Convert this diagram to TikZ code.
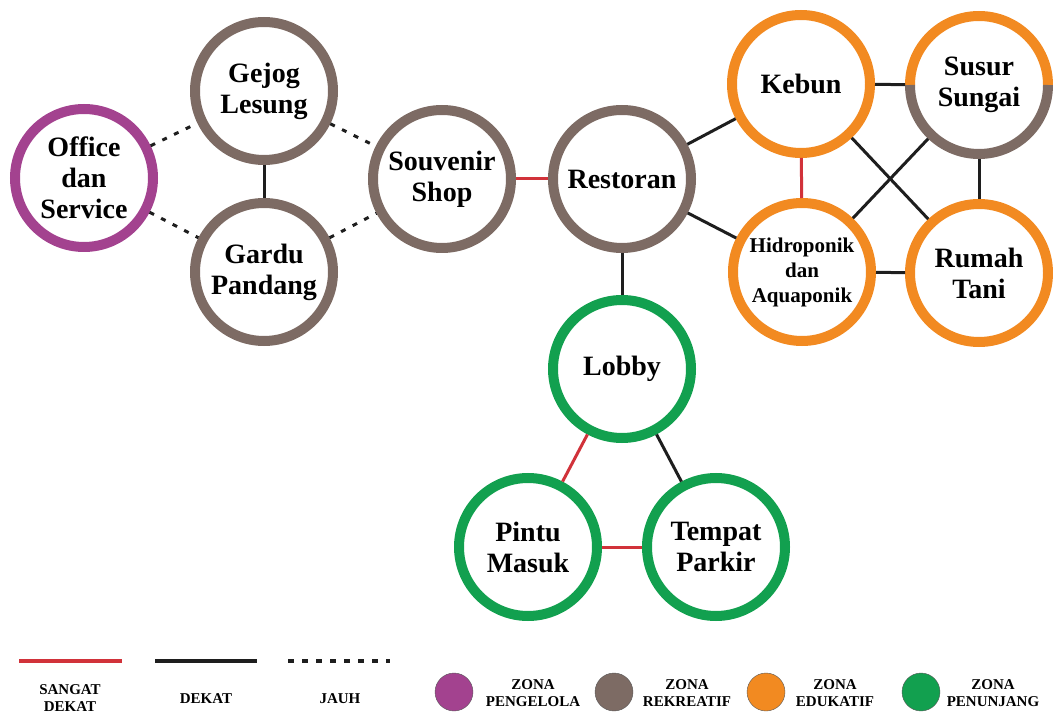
\documentclass[tikz,border=0pt]{standalone}
\usepackage{fontspec}
\setmainfont{Liberation Serif}
\usepackage{tikz}
\usetikzlibrary{shapes,positioning,calc}
\definecolor{zonepurple}{RGB}{163,66,143}
\definecolor{zonebrown}{RGB}{125,107,100}
\definecolor{zoneorange}{RGB}{242,138,33}
\definecolor{zonegreen}{RGB}{18,160,79}
\definecolor{linered}{RGB}{209,50,58}
\definecolor{linedark}{RGB}{30,30,30}

\begin{document}
\begin{tikzpicture}[
    x=1pt, y=1pt,
    zone/.style={circle, draw, line width=10pt, outer sep=5pt, minimum size=138pt, inner sep=0pt, align=center, font=\fontsize{28}{31}\selectfont\bfseries},
    sangat/.style={draw=linered, line width=3pt},
    dekat/.style={draw=linedark, line width=3pt},
    jauh/.style={draw=linedark, line width=3pt, dash pattern=on 5pt off 8pt},
    legend/.style={align=center, font=\fontsize{15}{17}\selectfont\bfseries},
    dot/.style={circle, draw=black!65, line width=0.4pt, minimum size=38pt, inner sep=0pt}
]
    \useasboundingbox (0,0) rectangle (1053,716);

    \node[zone, draw=zonepurple] (office) at (84,538) {Office\\dan\\Service};
    \node[zone, draw=zonebrown] (gejog) at (264,625) {Gejog\\Lesung};
    \node[zone, draw=zonebrown] (gardu) at (264,444) {Gardu\\Pandang};
    \node[zone, draw=zonebrown] (souvenir) at (442,537) {Souvenir\\Shop};
    \node[zone, draw=zonebrown] (restoran) at (622,537) {Restoran};
    \node[zone, draw=zoneorange] (kebun) at (801,632) {Kebun};
    \node[zone, draw=none] (susur) at (979,631) {Susur\\Sungai};
    \node[zone, draw=zoneorange, font=\fontsize{21}{25}\selectfont\bfseries] (hidro) at (802,444) {Hidroponik\\dan\\Aquaponik};
    \node[zone, draw=zoneorange] (rumah) at (979,443) {Rumah\\Tani};
    \node[zone, draw=zonegreen] (lobby) at (622,347) {Lobby};
    \node[zone, draw=zonegreen] (pintu) at (528,169) {Pintu\\Masuk};
    \node[zone, draw=zonegreen] (tempat) at (716,169) {Tempat\\Parkir};

    \draw[zoneorange, line width=10pt] ([xshift=69pt]susur.center) arc (0:180:69pt);
    \draw[zonebrown, line width=10pt] ([xshift=-69pt]susur.center) arc (180:360:69pt);

    \draw[jauh] (office) -- (gejog);
    \draw[jauh] (office) -- (gardu);
    \draw[jauh] (gejog) -- (souvenir);
    \draw[jauh] (gardu) -- (souvenir);
    \draw[dekat] (gejog) -- (gardu);
    \draw[sangat] (souvenir) -- (restoran);
    \draw[dekat] (restoran) -- (kebun);
    \draw[dekat] (restoran) -- (hidro);
    \draw[dekat] (restoran) -- (lobby);
    \draw[dekat] (kebun) -- (susur);
    \draw[sangat] (kebun) -- (hidro);
    \draw[dekat] (kebun) -- (rumah);
    \draw[dekat] (susur) -- (hidro);
    \draw[dekat] (susur) -- (rumah);
    \draw[dekat] (hidro) -- (rumah);
    \draw[sangat] (lobby) -- (pintu);
    \draw[dekat] (lobby) -- (tempat);
    \draw[sangat] (pintu) -- (tempat);

    \coordinate (sa) at (19,55);
    \coordinate (sb) at (122,55);
    \coordinate (da) at (155,55);
    \coordinate (db) at (257,55);
    \coordinate (ja) at (288,55);
    \coordinate (jb) at (390,55);
    \draw[sangat, line width=4pt] (sa) -- (sb);
    \draw[dekat, line width=4pt] (da) -- (db);
    \draw[jauh, line width=4pt, dash pattern=on 6pt off 8pt] (ja) -- (jb);
    \node[legend] (lsangat) at (70,18) {SANGAT\\DEKAT};
    \node[legend] (ldekat) at (206,17) {DEKAT};
    \node[legend] (ljauh) at (340,17) {JAUH};

    \node[dot, fill=zonepurple] (dpurple) at (454,24) {};
    \node[legend] (lpengelola) at (533,23) {ZONA\\PENGELOLA};
    \node[dot, fill=zonebrown] (dbrown) at (614,24) {};
    \node[legend] (lrekreatif) at (687,23) {ZONA\\REKREATIF};
    \node[dot, fill=zoneorange] (dorange) at (766,24) {};
    \node[legend] (ledukatif) at (835,23) {ZONA\\EDUKATIF};
    \node[dot, fill=zonegreen] (dgreen) at (921,24) {};
    \node[legend] (lpenunjang) at (993,23) {ZONA\\PENUNJANG};
\end{tikzpicture}
\end{document}
